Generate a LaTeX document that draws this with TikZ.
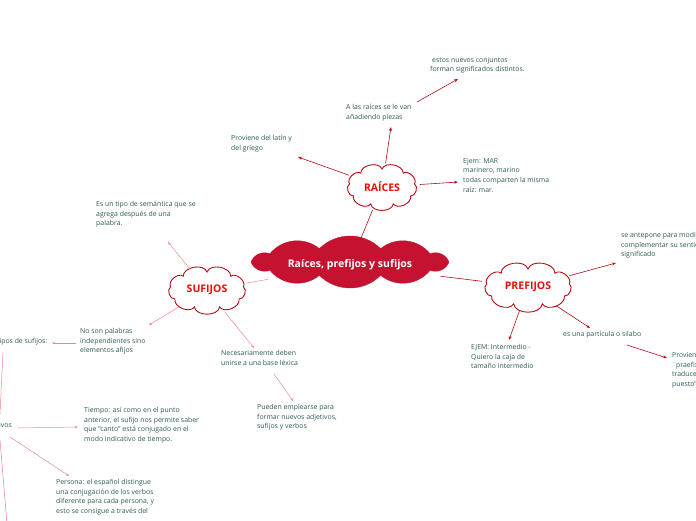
\documentclass[tikz,border=0pt]{standalone}
\usepackage{fontspec}
\setmainfont{Open Sans}
\usetikzlibrary{shapes.geometric,arrows.meta}
\definecolor{txt}{RGB}{45,90,88}
\definecolor{dred}{RGB}{180,12,22}
\definecolor{crim}{RGB}{196,18,48}
\definecolor{pinkl}{RGB}{226,140,140}
\definecolor{lred}{RGB}{240,10,10}
% #1 centre, #2 x radius, #3 y radius, #4 puffs, #5 angle offset, #6 bend, #7 path options
\newcommand\cloudpath[7]{%
  \path[#7] ([shift={(#5:#2 and #3)}]#1)
    \foreach \k in {1,...,#4} { to[bend right=#6] ([shift={({#5+\k*360/#4}:#2 and #3)}]#1) } -- cycle;}
\begin{document}
\begin{tikzpicture}[x=1pt,y=-1pt,
 lbl/.style={anchor=north west, inner sep=0pt, align=left, text=txt, font=\fontsize{6.9}{9.6}\selectfont},
 cloudtext/.style={ellipse, inner sep=0pt, font=\bfseries\fontsize{10.5}{12}\selectfont},
 subline/.style={draw=dred, line width=0.9pt, fill=white},
 darr/.style={draw=dred, line width=0.6pt, -{Stealth[length=4pt,width=3pt]}},
 parr/.style={draw=pinkl, line width=0.5pt, -{Stealth[length=3pt,width=2.5pt]}},
 pline/.style={draw=pinkl, line width=0.5pt},
 dline/.style={draw=dred, line width=0.6pt}]
\useasboundingbox (0,0) rectangle (696,520);
\clip (0,0) rectangle (696,520);

% cloud centres
\coordinate (cm) at (350,262);
\coordinate (cr) at (382,187);
\coordinate (cs) at (207,290);
\coordinate (cp) at (528,287);

% cloud outlines
\cloudpath{cm}{99pt}{14pt}{10}{0}{45}{draw=crim, fill=crim}
\cloudpath{cr}{33pt}{18pt}{9}{10}{80}{subline}
\cloudpath{cs}{37pt}{18pt}{9}{10}{80}{subline}
\cloudpath{cp}{42pt}{18pt}{9}{10}{80}{subline}

% cloud labels (named, sized to the outlines)
\node[cloudtext, text=white, minimum width=205pt, minimum height=47pt] (main) at (350,265) {Raíces, prefijos y sufijos};
\node[cloudtext, text=lred, minimum width=76pt, minimum height=47pt] (raices) at (cr) {RAÍCES};
\node[cloudtext, text=lred, minimum width=83pt, minimum height=47pt] (sufijos) at (cs) {SUFIJOS};
\node[cloudtext, text=lred, minimum width=94pt, minimum height=47pt] (prefijos) at (cp) {PREFIJOS};

% texts
\node[lbl] (estos) at (430,57) {\hspace{2pt}estos nuevos conjuntos\\forman significados distintos.};
\node[lbl] (alas) at (346,104) {A las raíces se le van\\añadiendo piezas};
\node[lbl] (prov) at (231,135) {Proviene del latín y\\del griego};
\node[lbl] (ejem) at (463,158) {Ejem: MAR\\marinero, marino\\todas comparten la misma\\raíz: mar.};
\node[lbl] (estipo) at (96,201) {Es un tipo de semántica que se\\agrega después de una\\palabra.};
\node[lbl] (noson) at (80,328) {No son palabras\\independientes sino\\elementos afijos};
\node[lbl, anchor=north east] (tipos) at (47.5,338) {Tipos de sufijos:};
\node[lbl] (nec) at (221,350) {Necesariamente deben\\unirse a una base léxica};
\node[lbl] (pueden) at (257,404) {Pueden emplearse para\\formar nuevos adjetivos,\\sufijos y verbos};
\node[lbl, anchor=north east] (flex) at (12,422) {Flexivos};
\node[lbl] (tiempo) at (84,407) {Tiempo: así como en el punto\\anterior, el sufijo nos permite saber\\que “canto” está conjugado en el\\modo indicativo de tiempo.};
\node[lbl] (persona) at (56,479) {Persona: el español distingue\\una conjugación de los verbos\\diferente para cada persona, y\\esto se consigue a través del};
\node[lbl] (antep) at (621,232) {se antepone para modificar o\\complementar su sentido o\\significado};
\node[lbl] (ejemint) at (471,344) {EJEM: Intermedio -\\Quiero la caja de\\tamaño intermedio};
\node[lbl] (esuna) at (563,331) {es una partícula o silabo};
\node[lbl] (provien) at (672,352) {Proviene del latín\\¨praefixus”, que se\\traduce como\\puesto” delante};

% end coordinates
\coordinate (e1) at (298,157);
\coordinate (e2) at (391,127);
\coordinate (s3) at (417,102);
\coordinate (e3) at (458,79);
\coordinate (e4) at (458,182);
\coordinate (e5) at (168,242);
\coordinate (e6) at (149,325);
\coordinate (e7) at (254,348);
\coordinate (s8) at (274,374);
\coordinate (e8) at (293,401);
\coordinate (s9) at (76,343);
\coordinate (e9) at (52,343);
\coordinate (s10) at (3,352);
\coordinate (e10) at (0,414);
\coordinate (s11) at (18,428);
\coordinate (e11) at (78,427);
\coordinate (s12) at (10,437);
\coordinate (e12) at (69,476);
\coordinate (s13) at (0,440);
\coordinate (e13) at (7,524);
\coordinate (e14) at (616,263);
\coordinate (e15) at (509,340);
\coordinate (e16) at (590,328);
\coordinate (s17) at (627,345);
\coordinate (e17) at (667,358);

% connectors
\draw[dline] (main) -- (raices);
\draw[pline] (main) -- (sufijos);
\draw[dline] (main) -- (prefijos);
\draw[darr] (raices) -- (e1);
\draw[darr] (raices) -- (e2);
\draw[darr] (s3) -- (e3);
\draw[darr] (raices) -- (e4);
\draw[parr] (sufijos) -- (e5);
\draw[parr] (sufijos) -- (e6);
\draw[parr] (sufijos) -- (e7);
\draw[parr] (s8) -- (e8);
\draw[parr] (s9) -- (e9);
\draw[pline] (s10) -- (e10);
\draw[parr] (s11) -- (e11);
\draw[parr] (s12) -- (e12);
\draw[pline] (s13) -- (e13);
\draw[darr] (prefijos) -- (e14);
\draw[darr] (prefijos) -- (e15);
\draw[darr] (prefijos) -- (e16);
\draw[darr] (s17) -- (e17);
\end{tikzpicture}
\end{document}
